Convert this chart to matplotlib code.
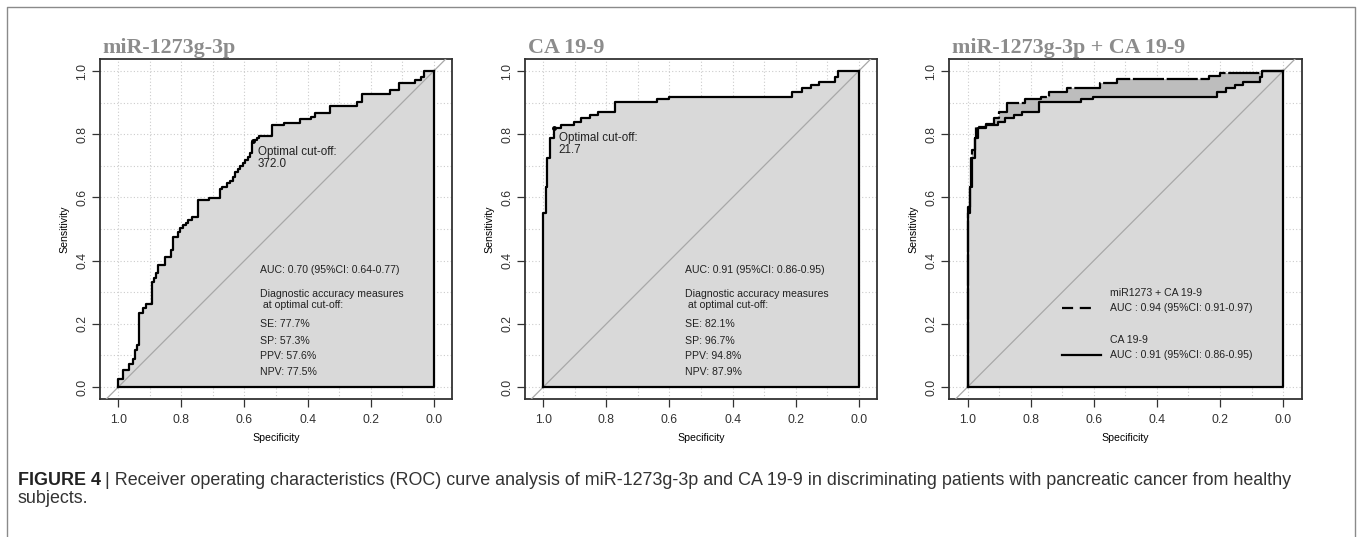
import matplotlib
matplotlib.use("Agg")
import matplotlib.pyplot as plt
from matplotlib.lines import Line2D

plt.rcParams['font.family'] = ['Liberation Sans', 'DejaVu Sans']

# ROC step points (specificity, sensitivity)
mir_spec = [1.000, 0.984, 0.966, 0.952, 0.947, 0.940, 0.933, 0.921, 0.912, 0.894,
            0.887, 0.880, 0.873, 0.852, 0.833, 0.828, 0.812, 0.804, 0.794, 0.786,
            0.778, 0.767, 0.746, 0.714, 0.679, 0.672, 0.654, 0.646, 0.638, 0.630,
            0.622, 0.614, 0.606, 0.598, 0.590, 0.584, 0.577, 0.571, 0.561, 0.553,
            0.513, 0.476, 0.425, 0.389, 0.376, 0.328, 0.243, 0.228, 0.140, 0.111,
            0.058, 0.040, 0.032, 0.000]
mir_sens = [0.000, 0.025, 0.054, 0.072, 0.088, 0.117, 0.133, 0.233, 0.249, 0.262,
            0.333, 0.344, 0.360, 0.386, 0.412, 0.434, 0.476, 0.492, 0.502, 0.513,
            0.520, 0.528, 0.537, 0.592, 0.599, 0.626, 0.634, 0.645, 0.652, 0.666,
            0.679, 0.689, 0.700, 0.708, 0.718, 0.729, 0.739, 0.774, 0.782, 0.789,
            0.795, 0.829, 0.836, 0.848, 0.855, 0.866, 0.889, 0.903, 0.927, 0.940,
            0.961, 0.972, 0.980, 1.000]

ca_spec = [1.000, 0.993, 0.988, 0.978, 0.967, 0.943, 0.903, 0.881, 0.853, 0.826,
           0.773, 0.641, 0.601, 0.211, 0.180, 0.153, 0.127, 0.074, 0.067, 0.000]
ca_sens = [0.000, 0.552, 0.634, 0.724, 0.787, 0.821, 0.829, 0.840, 0.852, 0.861,
           0.871, 0.903, 0.911, 0.919, 0.934, 0.945, 0.956, 0.964, 0.982, 1.000]

combo_spec = [1.000, 0.993, 0.985, 0.978, 0.972, 0.942, 0.916, 0.902, 0.875, 0.817,
              0.767, 0.741, 0.685, 0.579, 0.526, 0.236, 0.199, 0.067, 0.000]
combo_sens = [0.000, 0.571, 0.634, 0.750, 0.787, 0.824, 0.831, 0.850, 0.871, 0.898,
              0.910, 0.919, 0.934, 0.945, 0.961, 0.974, 0.984, 0.993, 1.000]

titles = ["miR-1273g-3p", "CA 19-9", "miR-1273g-3p + CA 19-9"]
cutoffs = ["372.0", "21.7"]
cut_points = [(0.573, 0.777), (0.967, 0.821)]
auc_texts = ["AUC: 0.70 (95%CI: 0.64-0.77)", "AUC: 0.91 (95%CI: 0.86-0.95)"]
measures = [["SE: 77.7%", "SP: 57.3%", "PPV: 57.6%", "NPV: 77.5%"],
            ["SE: 82.1%", "SP: 96.7%", "PPV: 94.8%", "NPV: 87.9%"]]

W, H = 1358, 537
fig = plt.figure(figsize=(W / 100, H / 100), dpi=100)

lefts = [100, 525, 949.3]
LIGHT = "#d9d9d9"
DARK = "#bdbdbd"
TXT = "#222222"
FS = 7.6


def roc_path(spec, sens):
    # steps-pre style vertices
    xs, ys = [spec[0]], [sens[0]]
    for i in range(1, len(spec)):
        xs += [spec[i - 1], spec[i]]
        ys += [sens[i], sens[i]]
    return xs, ys


def base_axes(left, title):
    ax = fig.add_axes([left / W, (H - 399) / H, 352.4 / W, 340 / H])
    ax.set_xlim(1.058, -0.059)
    ax.set_ylim(-0.038, 1.038)
    grid = [i / 10 for i in range(11)]
    for g in grid:
        ax.axvline(g, color="#cccccc", lw=0.8, ls=(0, (1, 2)), zorder=0)
        ax.axhline(g, color="#cccccc", lw=0.8, ls=(0, (1, 2)), zorder=0)
    ticks = [1.0, 0.8, 0.6, 0.4, 0.2, 0.0]
    ax.set_xticks(ticks)
    ax.set_xticklabels(["%.1f" % t for t in ticks])
    ax.set_yticks(ticks)
    ax.set_yticklabels(["%.1f" % t for t in ticks], rotation=90, va="center")
    ax.tick_params(labelsize=8.8, length=5.5, width=0.9, colors="#333333")
    ax.tick_params(axis="x", pad=5)
    ax.tick_params(axis="y", pad=3)
    for s in ax.spines.values():
        s.set_linewidth(1.3)
        s.set_color("#333333")
    ax.set_xlabel("Specificity", fontsize=7.6, labelpad=5)
    ax.set_ylabel("Sensitivity", fontsize=7.6, labelpad=5)
    ax.text(0.008, 1.018, title, transform=ax.transAxes, fontsize=15.8,
            family="Liberation Serif", weight="bold", color="#8c8c8c", va="baseline")
    return ax


def draw_roc(ax, spec, sens, color, ls="-"):
    xs, ys = roc_path(spec, sens)
    ax.fill(xs + [0.0, 1.0], ys + [0.0, 0.0], color=color, lw=0, zorder=1)
    ax.plot(xs, ys, color="black", lw=1.6, ls=ls, zorder=4)


def frame(ax):
    ax.plot([0, 0, 1], [1, 0, 0], color="black", lw=1.6, zorder=4)
    ax.plot([1.1, -0.1], [-0.1, 1.1], color="#a8a8a8", lw=0.9, zorder=3)


curves = [(mir_spec, mir_sens), (ca_spec, ca_sens)]
for k in range(2):
    ax = base_axes(lefts[k], titles[k])
    draw_roc(ax, curves[k][0], curves[k][1], LIGHT)
    frame(ax)
    px, py = cut_points[k]
    ax.plot(px, py, "o", color="black", ms=2.5, zorder=5)
    ax.text(px - 0.016, py - 0.015, "Optimal cut-off:\n" + cutoffs[k], fontsize=8.4,
            va="top", ha="left", linespacing=1.0, color=TXT)
    ax.text(0.55, 0.37, auc_texts[k], fontsize=FS, va="center", color=TXT)
    ax.text(0.55, 0.293, "Diagnostic accuracy measures", fontsize=FS, va="center", color=TXT)
    ax.text(0.55, 0.258, " at optimal cut-off:", fontsize=FS, va="center", color=TXT)
    for m, yy in zip(measures[k], [0.199, 0.147, 0.098, 0.048]):
        ax.text(0.55, yy, m, fontsize=FS, va="center", color=TXT)

ax = base_axes(lefts[2], titles[2])
draw_roc(ax, combo_spec, combo_sens, DARK, ls=(0, (14, 1.2)))
draw_roc(ax, ca_spec, ca_sens, LIGHT)
frame(ax)
ax.text(0.55, 0.296, "miR1273 + CA 19-9", fontsize=FS, va="center", color=TXT)
ax.text(0.55, 0.249, "AUC : 0.94 (95%CI: 0.91-0.97)", fontsize=FS, va="center", color=TXT)
ax.plot([0.70, 0.61], [0.249, 0.249], color="black", lw=1.6, ls=(0, (5, 3)))
ax.text(0.55, 0.149, "CA 19-9", fontsize=FS, va="center", color=TXT)
ax.text(0.55, 0.100, "AUC : 0.91 (95%CI: 0.86-0.95)", fontsize=FS, va="center", color=TXT)
ax.plot([0.70, 0.578], [0.100, 0.100], color="black", lw=1.6)

# outer frame of the figure
fx = [7 / W, 7 / W, 1355 / W, 1355 / W]
fy = [-0.05, 1 - 7 / H, 1 - 7 / H, -0.05]
fig.add_artist(Line2D(fx, fy, color="#8a8a8a", lw=1.0, transform=fig.transFigure))

# caption
CFS = 12.9
cap_y = 1 - 485 / H
t1 = fig.text(18 / W, cap_y, "FIGURE 4", fontsize=CFS, weight="bold", va="baseline",
              color="#222222")
fig.canvas.draw()
bb = t1.get_window_extent()
fig.text((bb.x1 + 4) / W, cap_y, "| Receiver operating characteristics (ROC) curve analysis of "
         "miR-1273g-3p and CA 19-9 in discriminating patients with pancreatic cancer from healthy",
         fontsize=CFS, va="baseline", color="#333333")
fig.text(18 / W, 1 - 503 / H, "subjects.", fontsize=CFS, va="baseline", color="#333333")

fig.savefig("out.png", dpi=100)
